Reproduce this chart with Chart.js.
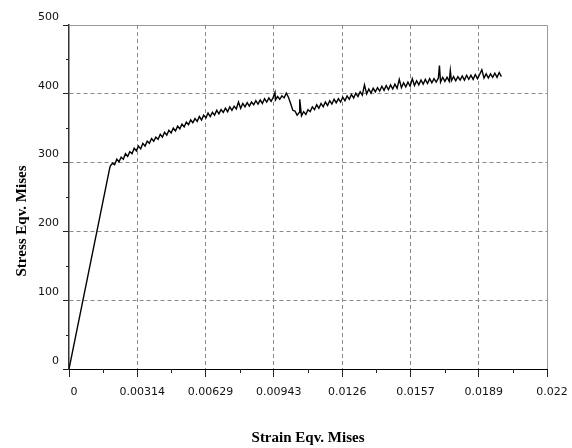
<!DOCTYPE html>
<html>
<head>
<meta charset="utf-8">
<script src="https://cdn.jsdelivr.net/npm/chart.js@4.4.0/dist/chart.umd.min.js"></script>
<style>
  html, body { margin: 0; padding: 0; background: #fff; }
  #wrap { width: 572px; height: 448px; }
</style>
</head>
<body>
<div id="wrap"><canvas id="stressChart" width="572" height="448"></canvas></div>
<script>
// strain / stress readings
var strain = [0, 0.00188, 0.0019,
    0.0020, 0.0021, 0.0022, 0.0023, 0.0024, 0.0025, 0.0026, 0.0027, 0.0028, 0.0029,
    0.0030, 0.0031, 0.0032, 0.0033, 0.0034, 0.0035, 0.0036, 0.0037, 0.0038, 0.0039,
    0.0040, 0.0041, 0.0042, 0.0043, 0.0044, 0.0045, 0.0046, 0.0047, 0.0048, 0.0049,
    0.0050, 0.0051, 0.0052, 0.0053, 0.0054, 0.0055, 0.0056, 0.0057, 0.0058, 0.0059,
    0.0060, 0.0061, 0.0062, 0.0063, 0.0064, 0.0065, 0.0066, 0.0067, 0.0068, 0.0069,
    0.0070, 0.0071, 0.0072, 0.0073, 0.0074, 0.0075, 0.0076, 0.0077, 0.0078, 0.0079,
    0.0080, 0.0081, 0.0082, 0.0083, 0.0084, 0.0085, 0.0086, 0.0087, 0.0088, 0.0089,
    0.0090, 0.0091, 0.0092, 0.0093, 0.0094,
    0.00948, 0.0095, 0.0096, 0.0097, 0.0098, 0.0099, 0.0100, 0.0101, 0.0102, 0.0103,
    0.0104, 0.0105, 0.0106, 0.01062,
    0.0107, 0.0108, 0.0109, 0.0110, 0.0111, 0.0112, 0.0113, 0.0114, 0.0115, 0.0116,
    0.0117, 0.0118, 0.0119, 0.0120, 0.0121, 0.0122, 0.0123, 0.0124, 0.0125, 0.0126,
    0.0127, 0.0128, 0.0129, 0.0130, 0.0131, 0.0132, 0.0133, 0.0134, 0.0135, 0.0136,
    0.0137, 0.0138, 0.0139, 0.0140, 0.0141, 0.0142, 0.0143, 0.0144, 0.0145, 0.0146,
    0.0147, 0.0148, 0.0149, 0.0150, 0.0151, 0.0152, 0.0153, 0.0154, 0.0155, 0.0156,
    0.0157, 0.0158, 0.0159, 0.0160, 0.0161, 0.0162, 0.0163, 0.0164, 0.0165, 0.0166,
    0.0167, 0.0168, 0.0169, 0.0170, 0.01705,
    0.0171, 0.0172, 0.0173, 0.0174, 0.0175, 0.01755,
    0.0176, 0.0177, 0.0178, 0.0179, 0.0180, 0.0181, 0.0182, 0.0183, 0.0184, 0.0185,
    0.0186, 0.0187, 0.0188, 0.0189, 0.0190, 0.0191, 0.0192, 0.0193, 0.0194, 0.0195,
    0.0196, 0.0197, 0.0198, 0.0199];
var stress = [0, 293, 295,
    299, 297, 305, 301, 308, 305, 313, 309, 316, 313,
    321, 317, 324, 320, 328, 324, 331, 328, 335, 331,
    337, 334, 341, 337, 344, 340, 347, 343, 350, 346,
    353, 349, 356, 352, 359, 355, 362, 358, 364, 360,
    367, 362, 369, 365, 372, 367, 373, 369, 376, 371,
    377, 373, 379, 374, 381, 376, 382, 378, 388, 379,
    386, 381, 387, 382, 388, 384, 390, 385, 391, 386,
    393, 388, 394, 389, 395,
    402, 391, 396, 392, 397, 394, 401, 395, 386, 376,
    375, 369, 373, 392,
    368, 374, 370, 377, 374, 381, 377, 384, 379, 386,
    381, 388, 383, 390, 385, 392, 387, 393, 388, 395,
    390, 397, 392, 399, 394, 401, 396, 403, 398, 413,
    400, 407, 401, 408, 403, 409, 404, 411, 405, 412,
    406, 413, 407, 414, 408, 421, 409, 416, 410, 417,
    411, 422, 412, 419, 413, 420, 414, 421, 415, 422,
    416, 422, 417, 423, 441,
    417, 424, 418, 424, 418, 434,
    419, 425, 419, 425, 420, 426, 420, 427, 421, 427,
    421, 428, 422, 428, 435, 423, 429, 423, 429, 424,
    430, 424, 431, 425];

var xTickValues = [0, 0.0031429, 0.0062857, 0.0094286, 0.0125714, 0.0157143, 0.0188571, 0.022];
var xTickLabels = ['0', '0.00314', '0.00629', '0.00943', '0.0126', '0.0157', '0.0189', '0.022'];
var yTickValues = [0, 100, 200, 300, 400, 500];

var points = strain.map(function (s, i) { return { x: s, y: stress[i] }; });

// minor ticks, top/right frame and the y title
var decorations = {
    id: 'decorations',
    beforeDatasetsDraw: function (chart) {
        var ctx = chart.ctx, xs = chart.scales.x, ys = chart.scales.y, a = chart.chartArea;
        ctx.save();
        ctx.strokeStyle = '#999';
        ctx.lineWidth = 1;
        ctx.beginPath();
        ctx.moveTo(a.left, Math.round(a.top) + 0.5);
        ctx.lineTo(Math.round(a.right) + 0.5, Math.round(a.top) + 0.5);
        ctx.lineTo(Math.round(a.right) + 0.5, a.bottom);
        ctx.stroke();

        ctx.strokeStyle = '#222';
        ctx.beginPath();
        for (var i = 0; i < xTickValues.length - 1; i++) {
            var px = Math.round(xs.getPixelForValue((xTickValues[i] + xTickValues[i + 1]) / 2)) + 0.5;
            ctx.moveTo(px, a.bottom);
            ctx.lineTo(px, a.bottom + 4);
        }
        for (var j = 0; j < yTickValues.length - 1; j++) {
            var py = Math.round(ys.getPixelForValue((yTickValues[j] + yTickValues[j + 1]) / 2)) + 0.5;
            ctx.moveTo(a.left, py);
            ctx.lineTo(a.left - 3, py);
        }
        ctx.stroke();

        ctx.translate(22, (a.top + a.bottom) / 2 + 24);
        ctx.rotate(-Math.PI / 2);
        ctx.fillStyle = '#000';
        ctx.font = 'bold 15px "Liberation Serif"';
        ctx.textAlign = 'center';
        ctx.textBaseline = 'middle';
        ctx.fillText('Stress Eqv. Mises', 0, 0);
        ctx.restore();
    }
};

var ctx = document.getElementById('stressChart').getContext('2d');
var stressChart = new Chart(ctx, {
    type: 'scatter',
    data: {
        datasets: [{
            label: 'Stress Eqv. Mises',
            data: points,
            showLine: true,
            borderColor: '#000',
            borderWidth: 1.4,
            pointRadius: 0,
            tension: 0
        }]
    },
    options: {
        responsive: false,
        animation: false,
        layout: { padding: { top: 25, right: 25, left: 0, bottom: 0 } },
        plugins: {
            legend: { display: false },
            tooltip: { enabled: false }
        },
        scales: {
            x: {
                type: 'linear',
                min: 0,
                max: 0.022,
                afterBuildTicks: function (scale) {
                    scale.ticks = xTickValues.map(function (v) { return { value: v }; });
                },
                afterFit: function (scale) { scale.height = 79; },
                ticks: {
                    color: '#111',
                    font: { family: 'DejaVu Sans', size: 11 },
                    padding: 9,
                    labelOffset: 5,
                    maxRotation: 0,
                    autoSkip: false,
                    callback: function (v, i) { return xTickLabels[i]; }
                },
                grid: {
                    color: function (c) {
                        var v = c.tick ? c.tick.value : 0;
                        return (v === 0 || v === 0.022) ? 'rgba(0,0,0,0)' : '#8a8a8a';
                    },
                    tickColor: '#222',
                    tickLength: 8
                },
                border: { color: '#000', width: 1, dash: [4, 3] },
                title: {
                    display: true,
                    text: 'Strain Eqv. Mises',
                    color: '#000',
                    font: { family: 'Liberation Serif', size: 15, weight: 'bold' },
                    padding: { top: 0, bottom: 1 }
                }
            },
            y: {
                min: 0,
                max: 500,
                afterBuildTicks: function (scale) {
                    scale.ticks = yTickValues.map(function (v) { return { value: v }; });
                },
                afterFit: function (scale) { scale.width = 69; },
                ticks: {
                    color: '#111',
                    font: { family: 'DejaVu Sans', size: 11 },
                    padding: 4,
                    labelOffset: -8
                },
                grid: {
                    color: function (c) {
                        var v = c.tick ? c.tick.value : 0;
                        return (v === 0 || v === 500) ? 'rgba(0,0,0,0)' : '#8a8a8a';
                    },
                    tickColor: '#222',
                    tickLength: 6
                },
                border: { color: '#333', width: 1.5, dash: [4, 3] }
            }
        }
    },
    plugins: [decorations]
});
</script>
</body>
</html>
